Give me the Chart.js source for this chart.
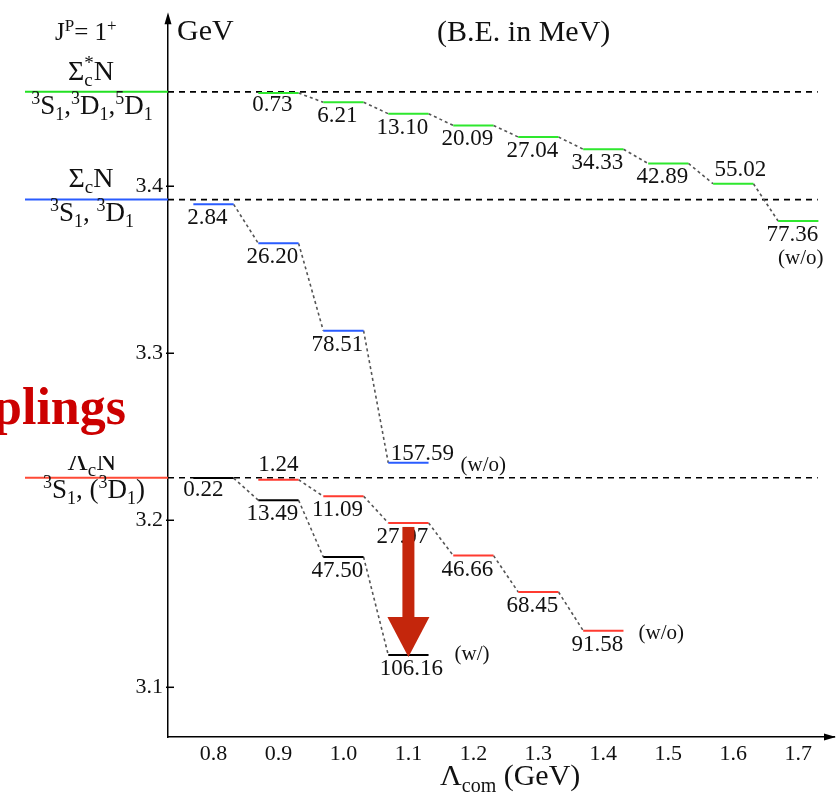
<!DOCTYPE html>
<html>
<head>
<meta charset="utf-8">
<script src="https://cdn.jsdelivr.net/npm/chart.js@4.4.1/dist/chart.umd.min.js"></script>
<style>
  html, body { margin: 0; padding: 0; background: #fff; }
  #wrap { width: 836px; height: 792px; }
</style>
</head>
<body>
<div id="wrap"><canvas id="levelChart" width="836" height="792"></canvas></div>
<script>
// thresholds in GeV: Σc*N, ΣcN, ΛcN
const thresholds = [3.4565, 3.392, 3.2255];
const xTicks = [0.8, 0.9, 1.0, 1.1, 1.2, 1.3, 1.4, 1.5, 1.6, 1.7];
const yTicks = [3.1, 3.2, 3.3, 3.4];

// binding energies (MeV) against Λcom (GeV)
const lamGreen = [0.9, 1.0, 1.1, 1.2, 1.3, 1.4, 1.5, 1.6, 1.7];
const beGreen  = [0.73, 6.21, 13.10, 20.09, 27.04, 34.33, 42.89, 55.02, 77.36];
const lamBlue  = [0.8, 0.9, 1.0, 1.1];
const beBlue   = [2.84, 26.20, 78.51, 157.59];
const lamRed   = [0.9, 1.0, 1.1, 1.2, 1.3, 1.4];
const beRed    = [1.24, 11.09, 27.07, 46.66, 68.45, 91.58];
const lamBlack = [0.8, 0.9, 1.0, 1.1];
const beBlack  = [0.22, 13.49, 47.50, 106.16];

const series = [
  { name: 'green', lam: lamGreen, be: beGreen, thr: thresholds[0], color: '#2ee82e' },
  { name: 'blue',  lam: lamBlue,  be: beBlue,  thr: thresholds[1], color: '#2a5cff' },
  { name: 'red',   lam: lamRed,   be: beRed,   thr: thresholds[2], color: '#ff3b30' },
  { name: 'black', lam: lamBlack, be: beBlack, thr: thresholds[2], color: '#000000' }
];

const HALF = 0.031;   // half length of a level bar, in GeV of Λcom
const SERIF = '"Liberation Serif", "DejaVu Serif", serif';

function energy(s, i) { return s.thr - s.be[i] / 1000; }

function barPoints(s) {
  const pts = [];
  s.lam.forEach((l, i) => {
    const e = energy(s, i);
    pts.push({ x: l - HALF, y: e }, { x: l + HALF, y: e }, { x: l + HALF, y: null });
  });
  return pts;
}

function linkPoints(s) {
  const pts = [];
  for (let i = 0; i < s.lam.length - 1; i++) {
    pts.push({ x: s.lam[i] + HALF, y: energy(s, i) },
             { x: s.lam[i + 1] - HALF, y: energy(s, i + 1) },
             { x: s.lam[i + 1] - HALF, y: null });
  }
  return pts;
}

const datasets = [];
series.forEach(s => datasets.push({
  data: barPoints(s), borderColor: s.color, borderWidth: 2, pointRadius: 0, spanGaps: false
}));
series.forEach(s => datasets.push({
  data: linkPoints(s), borderColor: '#555', borderWidth: 1.6, borderDash: [3, 3], pointRadius: 0, spanGaps: false
}));
thresholds.forEach(t => datasets.push({
  data: [{ x: 0.73, y: t }, { x: 1.73, y: t }],
  borderColor: '#000', borderWidth: 1.6, borderDash: [6, 5], pointRadius: 0
}));

// placement of the B.E. numbers (pixels relative to the bar centre)
const labelShift = {
  'green:0': { dx: -6, dy: 18 },
  'green:7': { dx: 7, dy: -8 },
  'blue:3':  { dx: 14, dy: -3 },
  'red:0':   { dx: 0, dy: -9 },
  'black:0': { dx: -10, dy: 18 },
  'black:3': { dx: 3, dy: 20 }
};
const notes = [
  { key: 'blue:3',  text: '(w/o)', from: 'right', dx: 32, dy: 8 },
  { key: 'green:8', text: '(w/o)', from: 'left',  dx: 0,  dy: 43 },
  { key: 'red:5',   text: '(w/o)', from: 'right', dx: 15, dy: 8 },
  { key: 'black:3', text: '(w/)',  from: 'right', dx: 26, dy: 5 }
];

function drawRich(ctx, parts, x, y, size, align, color) {
  const small = Math.round(size * 0.68);
  const font = s => `${s}px ${SERIF}`;
  let w = 0;
  const items = parts.map(([t, m, st]) => {
    ctx.font = font(m ? small : size);
    const tw = ctx.measureText(t).width;
    let sw = 0;
    if (st) { ctx.font = font(small); sw = ctx.measureText(st).width; }
    const it = { t, m, st, x: w };
    w += Math.max(tw, sw);
    return it;
  });
  const x0 = align === 'center' ? x - w / 2 : align === 'right' ? x - w : x;
  ctx.save();
  ctx.fillStyle = color || '#111';
  ctx.textAlign = 'left';
  ctx.textBaseline = 'alphabetic';
  items.forEach(it => {
    ctx.font = font(it.m ? small : size);
    const dy = it.m === -1 ? size * 0.22 : it.m === 1 ? -size * 0.38 : 0;
    ctx.fillText(it.t, x0 + it.x, y + dy);
    if (it.st) { ctx.font = font(small); ctx.fillText(it.st, x0 + it.x, y - size * 0.38); }
  });
  ctx.restore();
}

const decor = {
  id: 'decor',
  afterDraw(chart) {
    const { ctx, chartArea: a, scales: { x, y } } = chart;
    ctx.save();

    // inward tick marks on the energy axis
    ctx.strokeStyle = '#000';
    ctx.lineWidth = 1.5;
    yTicks.forEach(v => {
      const py = y.getPixelForValue(v);
      ctx.beginPath(); ctx.moveTo(a.left - 2, py); ctx.lineTo(a.left + 6, py); ctx.stroke();
    });

    // axis arrow heads
    ctx.fillStyle = '#000';
    ctx.beginPath();
    ctx.moveTo(a.left, a.top - 6); ctx.lineTo(a.left - 3.5, a.top + 6); ctx.lineTo(a.left + 3.5, a.top + 6);
    ctx.closePath(); ctx.fill();
    ctx.beginPath();
    ctx.moveTo(a.right + 2, a.bottom); ctx.lineTo(a.right - 10, a.bottom - 3.5); ctx.lineTo(a.right - 10, a.bottom + 3.5);
    ctx.closePath(); ctx.fill();

    // threshold stubs on the left
    const stubColors = ['#22e022', '#2a5cff', '#ff4a36'];
    thresholds.forEach((t, k) => {
      const py = y.getPixelForValue(t);
      ctx.strokeStyle = stubColors[k];
      ctx.lineWidth = 2;
      ctx.beginPath(); ctx.moveTo(25, py); ctx.lineTo(a.left, py); ctx.stroke();
    });

    // header texts
    drawRich(ctx, [['J', 0], ['P', 1], ['= 1', 0], ['+', 1]], 55, 40, 25, 'left');
    drawRich(ctx, [['GeV', 0]], 177, 40, 30, 'left');
    drawRich(ctx, [['(B.E. in MeV)', 0]], 437, 41, 30, 'left');

    // channel names
    drawRich(ctx, [['Σ', 0], ['c', -1, '*'], ['N', 0]], 91, 80, 28, 'center');
    drawRich(ctx, [['3', 1], ['S', 0], ['1', -1], [',', 0], ['3', 1], ['D', 0], ['1', -1], [',', 0], ['5', 1], ['D', 0], ['1', -1]], 92, 114, 27, 'center');
    drawRich(ctx, [['Σ', 0], ['c', -1], ['N', 0]], 91, 187, 28, 'center');
    drawRich(ctx, [['3', 1], ['S', 0], ['1', -1], [', ', 0], ['3', 1], ['D', 0], ['1', -1]], 92, 221, 27, 'center');
    drawRich(ctx, [['Λ', 0], ['c', -1], ['N', 0]], 92, 470, 28, 'center');
    drawRich(ctx, [['3', 1], ['S', 0], ['1', -1], [', (', 0], ['3', 1], ['D', 0], ['1', -1], [')', 0]], 94, 498, 27, 'center');

    // partly hidden red caption on the left
    ctx.fillStyle = '#fff';
    ctx.fillRect(0, 383, 134, 73);
    ctx.fillStyle = '#cc0000';
    ctx.font = `bold 52px ${SERIF}`;
    ctx.textAlign = 'right';
    ctx.textBaseline = 'alphabetic';
    ctx.fillText('Couplings', 126, 424);

    // binding energy labels
    ctx.fillStyle = '#111';
    ctx.font = `23px ${SERIF}`;
    ctx.textAlign = 'center';
    series.forEach(s => {
      s.lam.forEach((l, i) => {
        const sh = labelShift[`${s.name}:${i}`] || { dx: -6, dy: 20 };
        const px = x.getPixelForValue(l), py = y.getPixelForValue(energy(s, i));
        ctx.fillText(s.be[i].toFixed(2), px + sh.dx, py + sh.dy);
      });
    });

    // (w/o) / (w/) notes
    ctx.font = `21px ${SERIF}`;
    ctx.textAlign = 'left';
    notes.forEach(n => {
      const [name, idx] = n.key.split(':');
      const s = series.find(q => q.name === name);
      const i = +idx;
      const l = s.lam[i];
      const px = x.getPixelForValue(n.from === 'right' ? l + HALF : l - HALF);
      const py = y.getPixelForValue(energy(s, i));
      ctx.fillText(n.text, px + n.dx, py + n.dy);
    });

    // red arrow from the w/o level down to the coupled 106.16 level
    const ax = x.getPixelForValue(1.1);
    const tip = y.getPixelForValue(energy(series[3], 3)) + 2;
    const top = y.getPixelForValue(3.196);
    ctx.fillStyle = '#c4260c';
    ctx.fillRect(ax - 6, top, 12, tip - 40 - top + 1);
    ctx.beginPath();
    ctx.moveTo(ax - 21, tip - 40); ctx.lineTo(ax + 21, tip - 40); ctx.lineTo(ax, tip);
    ctx.closePath(); ctx.fill();

    // x axis title
    drawRich(ctx, [['Λ', 0], ['com', -1], [' (GeV)', 0]], 440, 785, 30, 'left');

    ctx.restore();
  }
};

const tickFont = { family: SERIF, size: 22 };

new Chart(document.getElementById('levelChart').getContext('2d'), {
  type: 'line',
  data: { datasets },
  options: {
    responsive: false,
    maintainAspectRatio: false,
    animation: false,
    events: [],
    layout: { padding: { left: 128, top: 14, right: 2, bottom: 15 } },
    plugins: { legend: { display: false }, tooltip: { enabled: false } },
    scales: {
      x: {
        type: 'linear', min: 0.73, max: 1.755,
        afterBuildTicks: s => { s.ticks = xTicks.map(v => ({ value: v })); },
        afterFit: s => { s.height = 40; },
        grid: { display: false, drawTicks: false },
        border: { display: true, color: '#000', width: 1.5 },
        ticks: { font: tickFont, color: '#111', padding: 4, maxRotation: 0, autoSkip: false,
                 callback: v => v.toFixed(1) }
      },
      y: {
        type: 'linear', min: 3.07024, max: 3.5006,
        afterBuildTicks: s => { s.ticks = yTicks.map(v => ({ value: v })); },
        afterFit: s => { s.width = 40; },
        grid: { display: false, drawTicks: false },
        border: { display: true, color: '#000', width: 1.5 },
        ticks: { font: tickFont, color: '#111', padding: 5,
                 callback: v => v.toFixed(1) }
      }
    }
  },
  plugins: [decor]
});
</script>
</body>
</html>
